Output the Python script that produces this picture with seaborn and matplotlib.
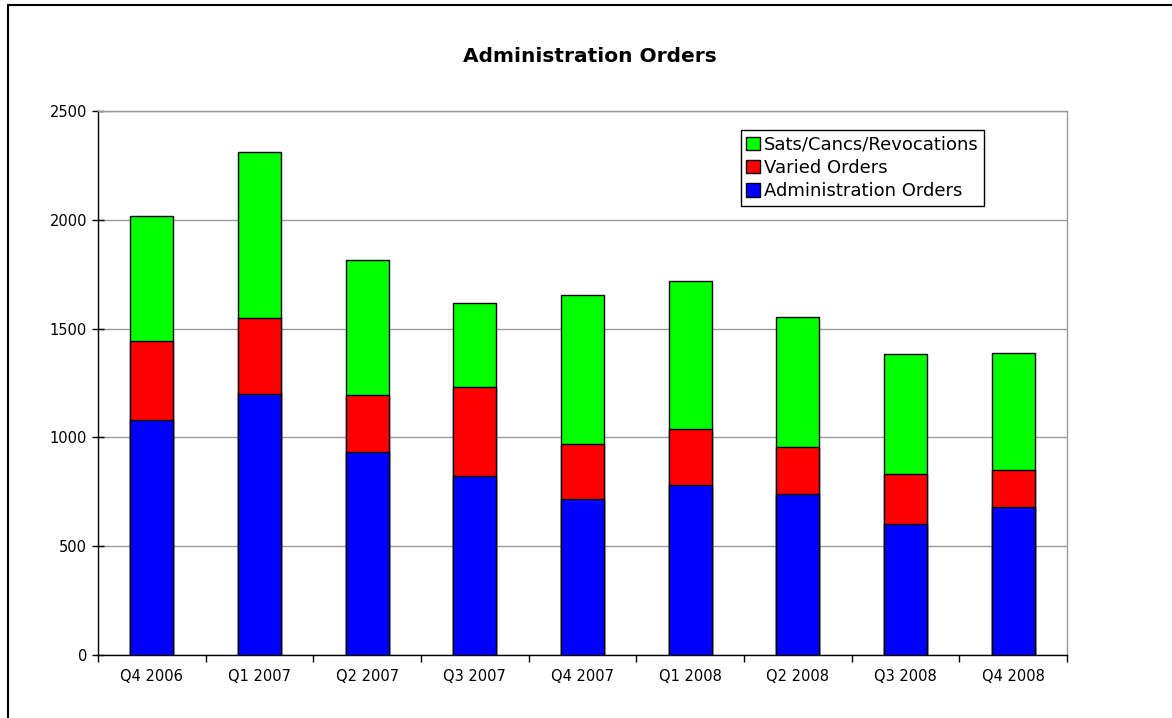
import pandas as pd
import matplotlib
matplotlib.use('Agg')
import matplotlib.pyplot as plt
import seaborn as sns
from matplotlib.patches import Patch, Rectangle

# -----------------------------
# Dati
# -----------------------------
quarters = ['Q4 2006', 'Q1 2007', 'Q2 2007', 'Q3 2007', 'Q4 2007',
            'Q1 2008', 'Q2 2008', 'Q3 2008', 'Q4 2008']
admin_orders = [1082, 1198, 932, 821, 717, 783, 742, 602, 680]
varied_orders = [362, 349, 262, 410, 251, 257, 216, 228, 172]
sats_cancs = [573, 766, 621, 387, 687, 677, 596, 554, 534]

df = pd.DataFrame({
    'quarter': quarters,
    'admin': admin_orders,
    'varied': varied_orders,
    'sats': sats_cancs,
})
df['lvl_red'] = df['admin'] + df['varied']
df['lvl_green'] = df['lvl_red'] + df['sats']

sns.set_style('white')
plt.rcParams['font.family'] = ['DejaVu Sans']
plt.rcParams['text.color'] = 'black'
plt.rcParams['xtick.color'] = 'black'
plt.rcParams['ytick.color'] = 'black'

fig = plt.figure(figsize=(11.72, 7.18), dpi=100)
ax = fig.add_axes([98 / 1172, 1 - 655 / 718, 969 / 1172, 544 / 718])

# -----------------------------
# Barre impilate (dal totale verso il basso)
# -----------------------------
layers = [('lvl_green', '#00ff00'), ('lvl_red', '#ff0000'), ('admin', '#0000ff')]
for col, colour in layers:
    sns.barplot(data=df, x='quarter', y=col, color=colour, width=0.4,
                edgecolor='black', linewidth=1, saturation=1, ax=ax, zorder=3)

ax.set_ylim(0, 2500)
ax.set_xlim(-0.5, len(quarters) - 0.5)
ax.set_yticks(range(0, 2501, 500))
ax.set_xlabel('')
ax.set_ylabel('')

# griglia orizzontale
ax.grid(axis='y', color='#999999', linewidth=1, zorder=0)
ax.set_axisbelow(True)

# assi stile Excel
for side in ['left', 'bottom']:
    ax.spines[side].set_color('black')
    ax.spines[side].set_linewidth(1)
for side in ['top', 'right']:
    ax.spines[side].set_color('#999999')
    ax.spines[side].set_linewidth(1)

ax.tick_params(axis='y', which='major', direction='inout', length=8, width=1,
               color='black', labelsize=10.5, left=True, pad=4, labelcolor='black')
ax.tick_params(axis='x', which='major', length=0, labelsize=10.5, pad=10,
               labelcolor='black')
ax.set_xticks([i - 0.5 for i in range(len(quarters) + 1)], minor=True)
ax.tick_params(axis='x', which='minor', direction='out', length=5, width=1,
               color='black', bottom=True)

# -----------------------------
# Legenda
# -----------------------------
handles = [Patch(facecolor='#00ff00', edgecolor='black', label='Sats/Cancs/Revocations'),
           Patch(facecolor='#ff0000', edgecolor='black', label='Varied Orders'),
           Patch(facecolor='#0000ff', edgecolor='black', label='Administration Orders')]
leg = ax.legend(handles=handles, loc='upper left', bbox_to_anchor=(0.6636, 0.965),
                borderaxespad=0, fontsize=13, fancybox=False, framealpha=1,
                handlelength=0.75, handleheight=0.75, handletextpad=0.2,
                labelspacing=0.3, borderpad=0.3)
leg.get_frame().set_edgecolor('black')
leg.get_frame().set_linewidth(1)

# titolo
fig.text(590 / 1172, 1 - 57 / 718, 'Administration Orders', ha='center', va='center',
         fontsize=14.5, fontweight='bold', color='black')

# bordo esterno del grafico
fig.patches.append(Rectangle((8 / 1172, -0.1), 1.2, 1.1 - 5 / 718,
                             transform=fig.transFigure, fill=False,
                             edgecolor='black', linewidth=1.5, zorder=10))

fig.savefig('out.png', dpi=100)
